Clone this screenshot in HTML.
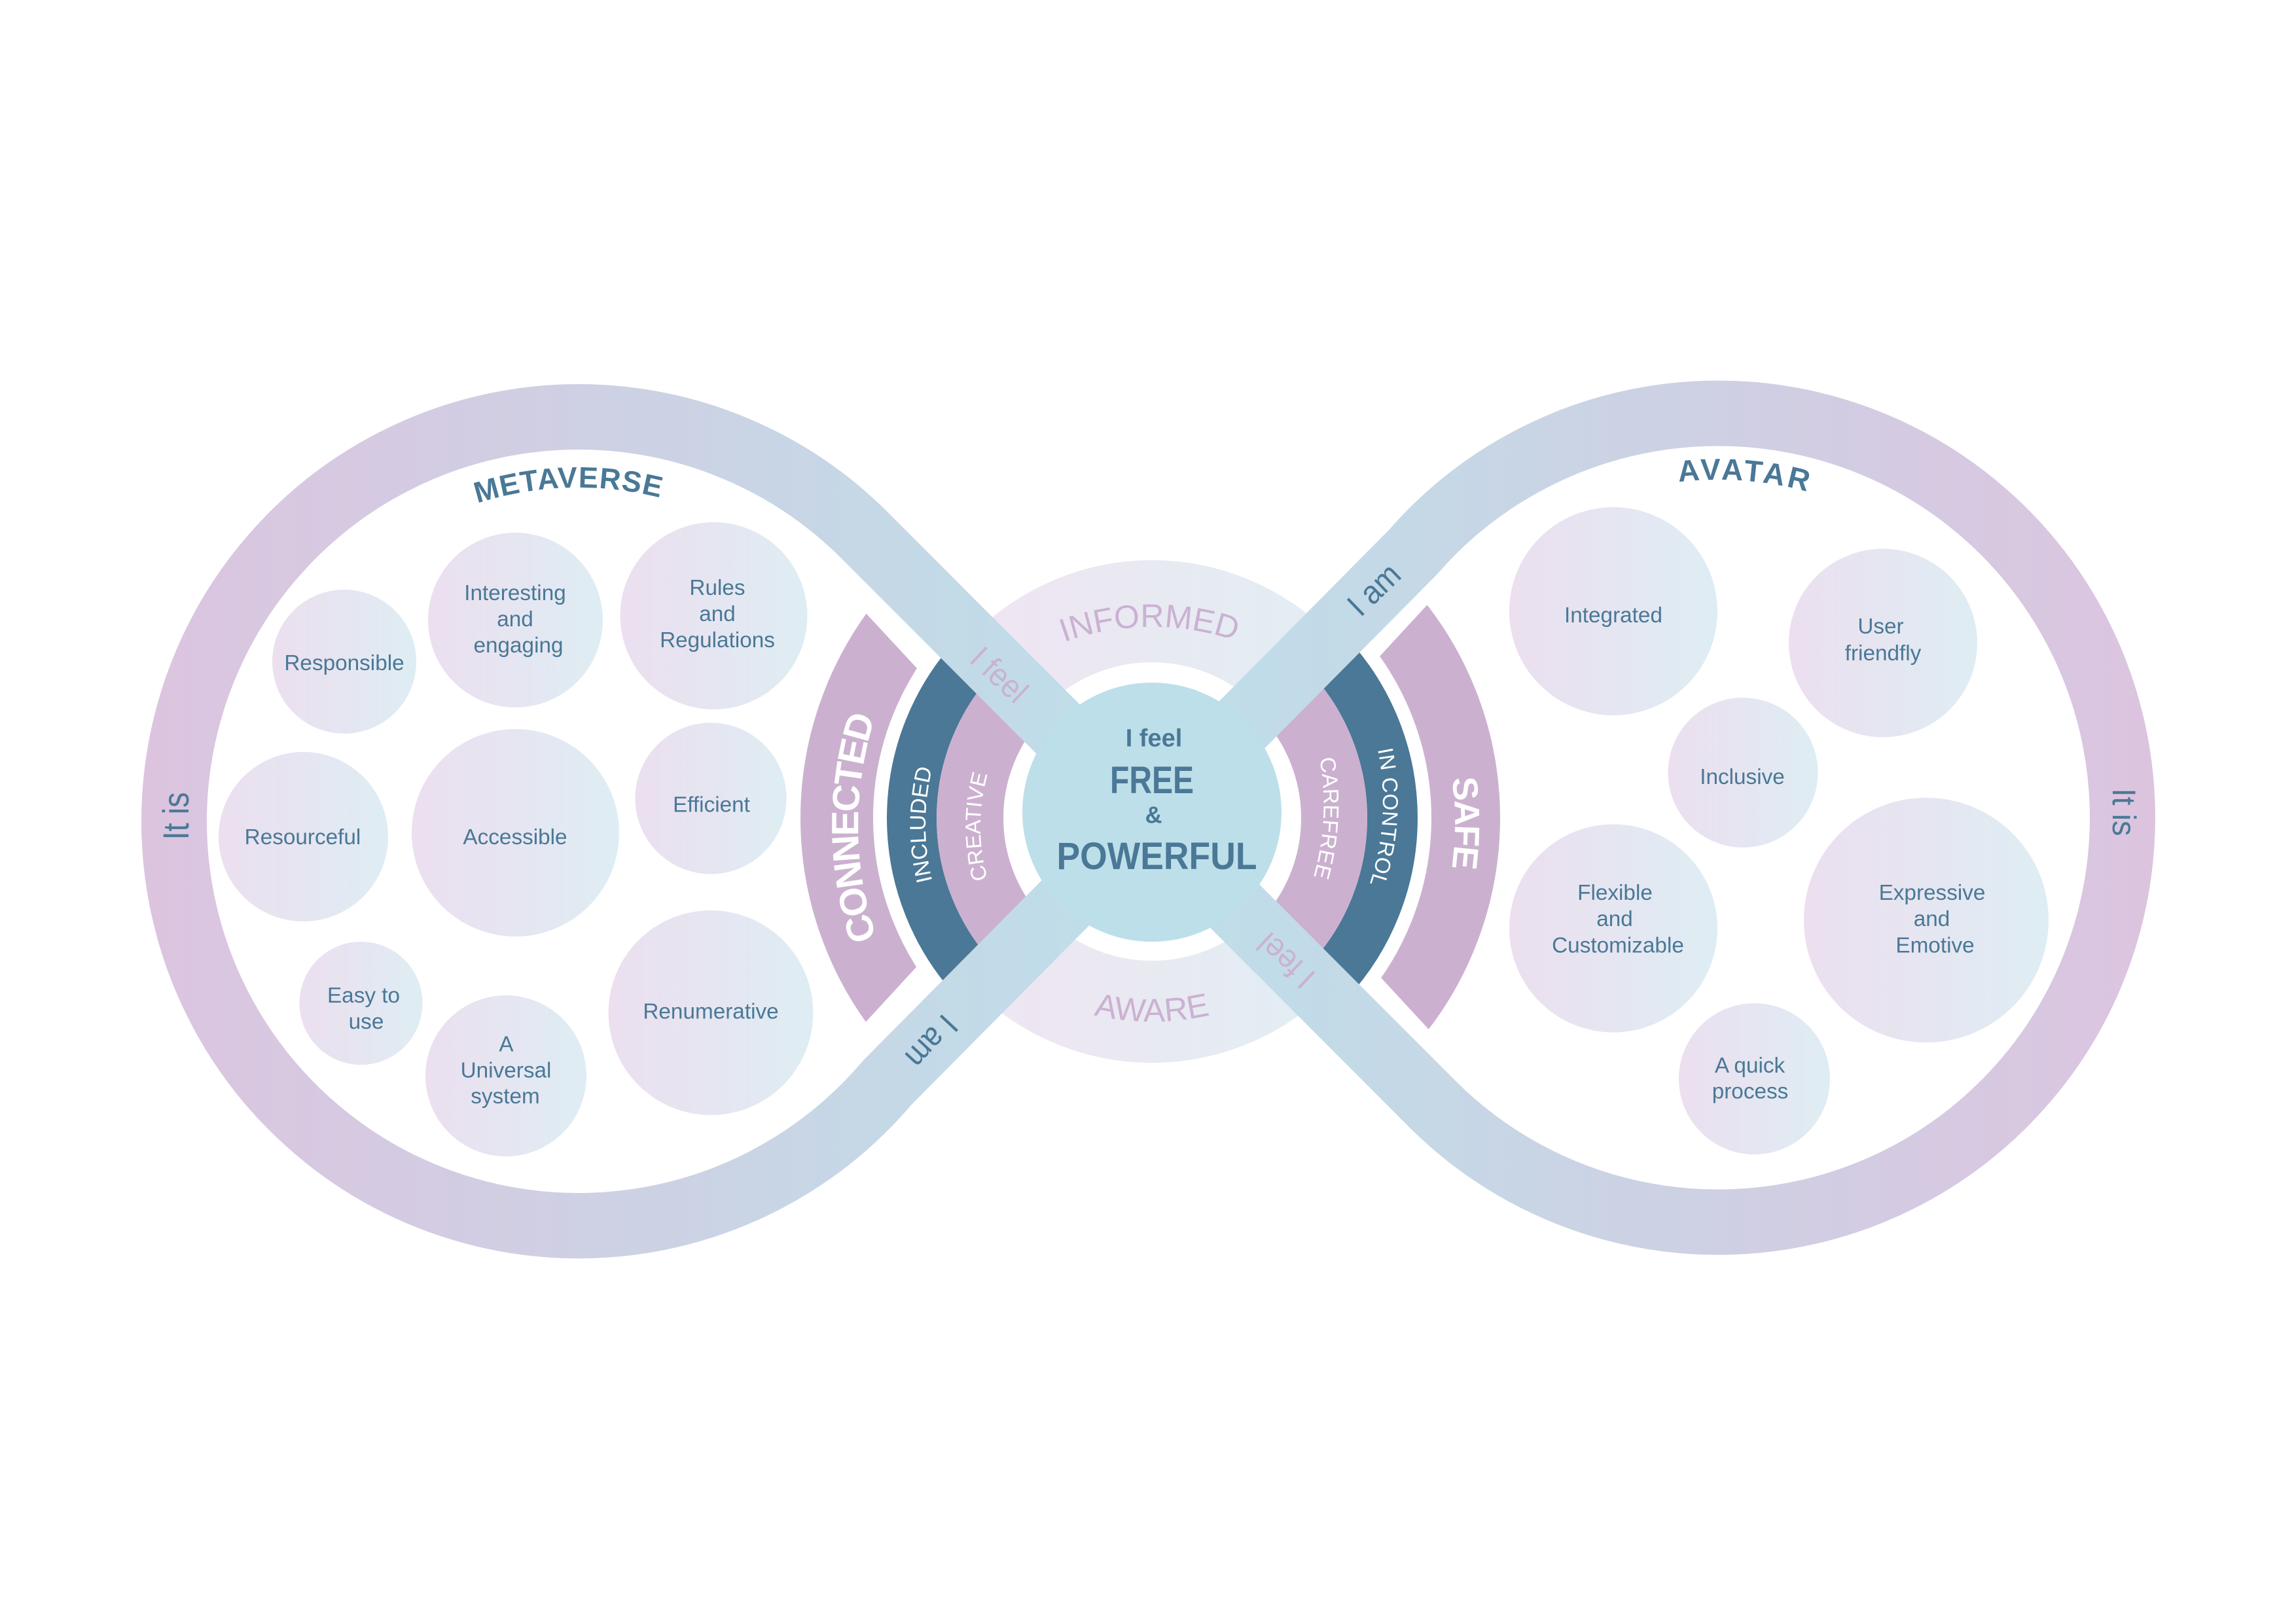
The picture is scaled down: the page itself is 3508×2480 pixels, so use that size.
<!DOCTYPE html>
<html>
<head>
<meta charset="utf-8">
<style>
html,body{margin:0;padding:0;background:#fff;width:3508px;height:2480px;overflow:hidden}
svg{display:block}
text{font-family:"Liberation Sans",Arial,sans-serif}
.c{font-size:33.3px;fill:#4a7896;text-anchor:middle}
.b{font-weight:bold;fill:#4a7896;text-anchor:middle}
.w{fill:#fff;text-anchor:middle}
.p{fill:#cbb1d2;text-anchor:middle}
</style>
</head>
<body>
<svg width="3508" height="2480" viewBox="0 0 3508 2480" xmlns="http://www.w3.org/2000/svg">
<defs>
<linearGradient id="band" gradientUnits="userSpaceOnUse" x1="217" y1="0" x2="3293" y2="0">
<stop offset="0" stop-color="#dcc4df"/><stop offset="0.5" stop-color="#bddfe9"/><stop offset="1" stop-color="#dcc4df"/>
</linearGradient>
<linearGradient id="bub" x1="0" y1="0" x2="1" y2="0">
<stop offset="0" stop-color="#ecdfef"/><stop offset="1" stop-color="#deedf3"/>
</linearGradient>
<linearGradient id="ring" gradientUnits="userSpaceOnUse" x1="1500" y1="0" x2="2020" y2="0">
<stop offset="0" stop-color="#efe5f2"/><stop offset="1" stop-color="#e2eef3"/>
</linearGradient>
<clipPath id="cRing"><polygon points="1754,1251 1100,597 2408,597 1754,1251 2408,1905 1100,1905"/></clipPath>
<clipPath id="cLo"><polygon points="1000,588.5 1500,1128 1500,1369 1000,1912.6"/></clipPath>
<clipPath id="cLi"><polygon points="1754,1251 1000,497 1000,2005"/></clipPath>
<clipPath id="cRo"><polygon points="2500,578 2000,1120 2000,1375 2500,1916"/></clipPath>
<clipPath id="cRi"><polygon points="1754,1251 2500,505 2500,1997"/></clipPath>
<path id="pm" d="M374,1255 A510 510 0 0 1 1394,1255"/>
<path id="pav" d="M2108,1250 A517 517 0 0 1 3142,1250"/>
<path id="pcon" d="M1851,1801 A540 540 0 0 1 1851,721"/>
<path id="pinc" d="M1774,1620 A360 360 0 0 1 1774,900"/>
<path id="pcre" d="M1798,1563 A300 300 0 0 1 1798,963"/>
<path id="pcar" d="M1622.6,830 A400 400 0 0 1 1622.6,1630"/>
<path id="pict" d="M1713,825 A400 400 0 0 1 1713,1625"/>
<path id="psafe" d="M1723,757 A500 500 0 0 1 1723,1757"/>
<path id="pinf" d="M1360,1358 A400 400 0 0 1 2160,1358"/>
<path id="paw" d="M1360,1161 A400 400 0 0 0 2160,1161"/>
</defs>

<rect width="3508" height="2480" fill="#fff"/>

<!-- rings -->
<circle cx="1760" cy="1240" r="306" fill="none" stroke="url(#ring)" stroke-width="156" clip-path="url(#cRing)"/>
<circle cx="1758" cy="1250" r="479.5" fill="none" stroke="#cbb1cf" stroke-width="111" clip-path="url(#cLo)"/>
<circle cx="1758" cy="1250" r="365" fill="none" stroke="#4a7896" stroke-width="76" clip-path="url(#cLi)"/>
<circle cx="1758" cy="1250" r="276" fill="none" stroke="#cbb1cf" stroke-width="102" clip-path="url(#cLi)"/>
<circle cx="1761" cy="1250" r="478.5" fill="none" stroke="#cbb1cf" stroke-width="105" clip-path="url(#cRo)"/>
<circle cx="1761" cy="1250" r="366.5" fill="none" stroke="#4a7896" stroke-width="77" clip-path="url(#cRi)"/>
<circle cx="1761" cy="1250" r="277.5" fill="none" stroke="#cbb1cf" stroke-width="101" clip-path="url(#cRi)"/>

<!-- infinity band -->
<path d="M1321,818 A618 618 0 1 0 1355.3,1654.7 L2158.6,844 A618 618 0 1 1 2188,1686.5 Z" fill="none" stroke="url(#band)" stroke-width="100" stroke-linejoin="miter"/>

<!-- centre -->
<circle cx="1760" cy="1241" r="198" fill="#bddfe9"/>

<!-- bubbles left -->
<circle cx="526" cy="1011" r="110" fill="url(#bub)"/>
<circle cx="787.5" cy="947.5" r="133.5" fill="url(#bub)"/>
<circle cx="1090.5" cy="941" r="143" fill="url(#bub)"/>
<circle cx="463.5" cy="1278.5" r="129.5" fill="url(#bub)"/>
<circle cx="787.5" cy="1272.5" r="158.5" fill="url(#bub)"/>
<circle cx="1086" cy="1220" r="115.6" fill="url(#bub)"/>
<circle cx="551.5" cy="1533" r="94" fill="url(#bub)"/>
<circle cx="773" cy="1644" r="123" fill="url(#bub)"/>
<circle cx="1086" cy="1547.5" r="156.4" fill="url(#bub)"/>
<!-- bubbles right -->
<circle cx="2465" cy="934" r="159" fill="url(#bub)"/>
<circle cx="2877" cy="982.5" r="144" fill="url(#bub)"/>
<circle cx="2663" cy="1180.5" r="114.5" fill="url(#bub)"/>
<circle cx="2943" cy="1406" r="187" fill="url(#bub)"/>
<circle cx="2465" cy="1418.5" r="159" fill="url(#bub)"/>
<circle cx="2680.5" cy="1648.5" r="115.5" fill="url(#bub)"/>

<!-- bubble labels -->
<text class="c" x="526" y="1024">Responsible</text>
<text class="c" x="787" y="917">Interesting</text>
<text class="c" x="787" y="957">and</text>
<text class="c" x="792" y="997">engaging</text>
<text class="c" x="1096" y="909">Rules</text>
<text class="c" x="1096" y="949">and</text>
<text class="c" x="1096" y="989">Regulations</text>
<text class="c" x="462.5" y="1290">Resourceful</text>
<text class="c" x="787" y="1290">Accessible</text>
<text class="c" x="1087" y="1240.5">Efficient</text>
<text class="c" x="555.5" y="1532">Easy to</text>
<text class="c" x="559.5" y="1572">use</text>
<text class="c" x="773.5" y="1606.5">A</text>
<text class="c" x="773" y="1646.5">Universal</text>
<text class="c" x="772" y="1686">system</text>
<text class="c" x="1086" y="1556.5">Renumerative</text>
<text class="c" x="2465" y="951">Integrated</text>
<text class="c" x="2873.5" y="968">User</text>
<text class="c" x="2877" y="1009">friendfly</text>
<text class="c" x="2662" y="1198">Inclusive</text>
<text class="c" x="2467.5" y="1375">Flexible</text>
<text class="c" x="2467" y="1415">and</text>
<text class="c" x="2472" y="1455.5">Customizable</text>
<text class="c" x="2952" y="1375">Expressive</text>
<text class="c" x="2951.5" y="1415">and</text>
<text class="c" x="2956.5" y="1455.5">Emotive</text>
<text class="c" x="2673.5" y="1639">A quick</text>
<text class="c" x="2674" y="1678.5">process</text>

<!-- titles -->
<text class="b" font-size="45" letter-spacing="1.2"><textPath href="#pm" startOffset="49.05%">METAVERSE</textPath></text>
<text class="b" font-size="46" letter-spacing="4"><textPath href="#pav" startOffset="52.5%">AVATAR</textPath></text>

<!-- arc labels -->
<text class="w" font-size="58" font-weight="bold" letter-spacing="-3"><textPath href="#pcon" startOffset="49.7%">CONNECTED</textPath></text>
<text class="w" font-size="34"><textPath href="#pinc" startOffset="50%">INCLUDED</textPath></text>
<text class="w" font-size="33"><textPath href="#pcre" startOffset="50%">CREATIVE</textPath></text>
<text class="w" font-size="33" letter-spacing="0.5"><textPath href="#pcar" startOffset="51.6%">CAREFREE</textPath></text>
<text class="w" font-size="33" letter-spacing="0.5"><textPath href="#pict" startOffset="51.9%">IN CONTROL</textPath></text>
<text class="w" font-size="54" font-weight="bold" letter-spacing="-2"><textPath href="#psafe" startOffset="50%">SAFE</textPath></text>
<text class="p" font-size="50"><textPath href="#pinf" startOffset="49.7%">INFORMED</textPath></text>
<text class="p" font-size="50"><textPath href="#paw" startOffset="50%">AWARE</textPath></text>

<!-- band labels -->
<text class="p" font-size="50" textLength="98" lengthAdjust="spacingAndGlyphs" transform="translate(1515,1043.5) rotate(43)">I feel</text>
<text class="p" font-size="50" textLength="98" lengthAdjust="spacingAndGlyphs" transform="translate(1976.5,1455.5) rotate(223)">I feel</text>
<text font-size="50" fill="#4a7896" text-anchor="middle" textLength="90" lengthAdjust="spacingAndGlyphs" transform="translate(2111,913) rotate(-44)">I am</text>
<text font-size="50" fill="#4a7896" text-anchor="middle" textLength="90" lengthAdjust="spacingAndGlyphs" transform="translate(1411,1580) rotate(133)">I am</text>
<text font-size="56" fill="#4a7896" text-anchor="middle" textLength="73" lengthAdjust="spacingAndGlyphs" transform="translate(288,1247) rotate(-90)">It is</text>
<text font-size="50" fill="#4a7896" text-anchor="middle" textLength="73" lengthAdjust="spacingAndGlyphs" transform="translate(3228,1241) rotate(90)">It is</text>

<!-- centre text -->
<text class="b" x="1763" y="1140.5" font-size="38">I feel</text>
<text class="b" x="1760" y="1212" font-size="58" textLength="128" lengthAdjust="spacingAndGlyphs">FREE</text>
<text class="b" x="1762.5" y="1257.5" font-size="36">&amp;</text>
<text class="b" x="1767.5" y="1328" font-size="58" textLength="306" lengthAdjust="spacingAndGlyphs">POWERFUL</text>
</svg>
</body>
</html>
